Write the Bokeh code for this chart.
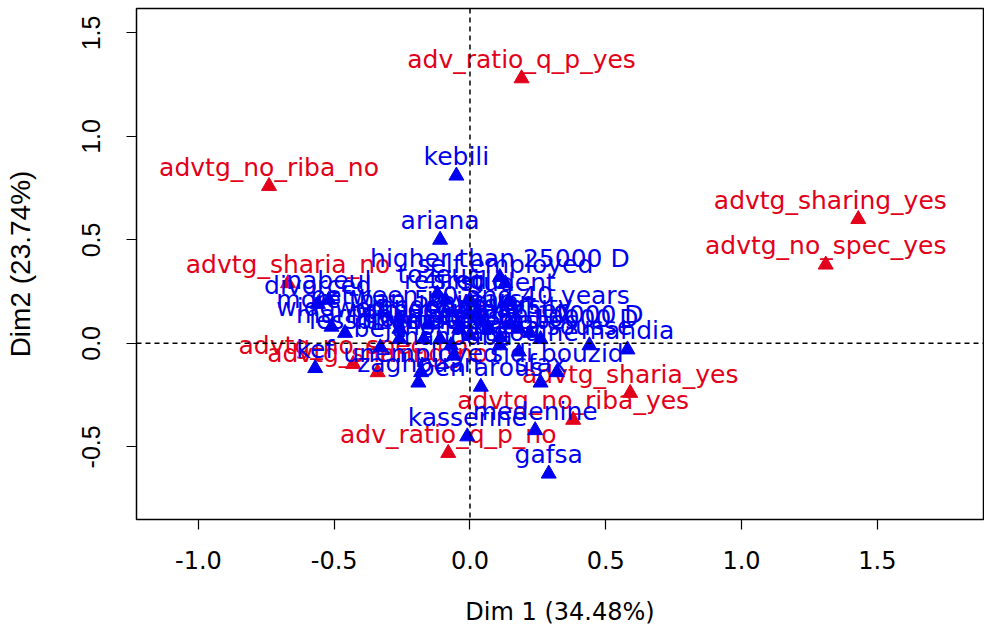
from bokeh.plotting import figure
from bokeh.models import Range1d, Span, ColumnDataSource, FixedTicker, PrintfTickFormatter
from bokeh.core.properties import value
from bokeh.embed import file_html
from bokeh.resources import INLINE

# ---- data ----
red_labels = ["adv_ratio_q_p_yes", "advtg_no_riba_no", "advtg_sharing_yes", "advtg_no_spec_yes",
              "advtg_sharia_no", "advtg_sharia_yes", "advtg_no_riba_yes", "adv_ratio_q_p_no",
              "advtg_no_spec_no", "advtg_sharing_no"]
red_x = [0.19, -0.74, 1.43, 1.31, -0.67, 0.59, 0.38, -0.08, -0.43, -0.34]
red_y = [1.28, 0.76, 0.60, 0.38, 0.29, -0.24, -0.37, -0.53, -0.10, -0.14]

blue_labels = ["kebili", "ariana", "higher than 25000 D", "self employed", "tozeur", "retired",
               "student", "nabeul", "divorced", "more than 50 years", "widowed", "married",
               "less than 30 years", "teacher", "less than 10000 D", "mahdia", "sidi bouzid",
               "sfax", "zaghouan", "unemployed", "ben arous", "kasserine", "medenine", "gafsa",
               "kef", "tunis", "sousse", "monastir", "bizerte", "beja", "jendouba", "siliana",
               "kairouan", "gabes", "tataouine", "manouba", "male", "female", "primary",
               "secondary", "university", "between 30 and 40 years", "single",
               "from 5000 to 10000 D"]
blue_x = [-0.05, -0.11, 0.11, 0.13, -0.12, -0.09, 0.14, -0.52, -0.56, -0.26, -0.51, -0.46,
          -0.17, 0.18, 0.22, 0.58, 0.32, 0.26, -0.19, -0.18, 0.04, -0.01, 0.24, 0.29,
          -0.57, 0.00, 0.44, -0.07, -0.26, -0.33, -0.15, 0.11, 0.04, 0.26, 0.18, -0.06,
          0.07, -0.11, -0.26, -0.04, 0.15, 0.00, 0.00, 0.11]
blue_y = [0.81, 0.50, 0.32, 0.29, 0.24, 0.21, 0.20, 0.21, 0.19, 0.12, 0.08, 0.05,
          0.02, 0.07, 0.05, -0.03, -0.14, -0.19, -0.19, -0.14, -0.21, -0.45, -0.42, -0.63,
          -0.12, 0.04, -0.01, -0.01, 0.02, -0.02, 0.09, -0.01, 0.11, 0.02, -0.04, -0.06,
          0.07, 0.02, 0.07, 0.07, 0.09, 0.14, 0.21, 0.03]

x_ticks = [-1.0, -0.5, 0.0, 0.5, 1.0, 1.5]
y_ticks = [-0.5, 0.0, 0.5, 1.0, 1.5]
x_title = "Dim 1 (34.48%)"
y_title = "Dim2 (23.74%)"

RED = "#E2001A"
BLUE = "#0000F0"
label_nudge = {"advtg_sharing_yes": -28}

p = figure(width=984, height=628, output_backend="svg", toolbar_location=None,
           x_range=Range1d(-1.228, 1.891), y_range=Range1d(-0.851, 1.618),
           min_border_left=136, min_border_right=1, min_border_top=8, min_border_bottom=108)
p.grid.visible = False
p.outline_line_color = "black"
p.outline_line_width = 1.5
p.background_fill_color = "white"

for ax, ticks in ((p.xaxis[0], x_ticks), (p.yaxis[0], y_ticks)):
    ax.ticker = FixedTicker(ticks=ticks)
    ax.formatter = PrintfTickFormatter(format="%.1f")
    ax.axis_line_color = None
    ax.major_tick_line_color = "black"
    ax.major_tick_line_width = 1.2
    ax.major_tick_out = 10
    ax.major_tick_in = 0
    ax.minor_tick_line_color = None
    ax.major_label_text_color = "black"
    ax.axis_label_text_color = "black"
    ax.axis_label_text_font_style = "normal"

p.xaxis.major_label_text_font = "DejaVu Sans"
p.xaxis.major_label_text_font_size = "24px"
p.xaxis.major_label_standoff = 21
p.xaxis.axis_label = x_title
p.xaxis.axis_label_text_font = "DejaVu Sans"
p.xaxis.axis_label_text_font_size = "24px"
p.xaxis.axis_label_standoff = 26

p.yaxis.major_label_orientation = "vertical"
p.yaxis.major_label_text_font = "Liberation Sans"
p.yaxis.major_label_text_font_size = "25px"
p.yaxis.major_label_standoff = 26
p.yaxis.axis_label = y_title
p.yaxis.axis_label_text_font = "Liberation Sans"
p.yaxis.axis_label_text_font_size = "28px"
p.yaxis.axis_label_standoff = 44

p.add_layout(Span(location=0, dimension="height", line_color="black", line_dash="5 4", line_width=1.5))
p.add_layout(Span(location=0, dimension="width", line_color="black", line_dash="5 4", line_width=1.5))

red_src = ColumnDataSource(dict(x=red_x, y=red_y, t=red_labels,
                                dx=[label_nudge.get(t, 0) for t in red_labels]))
blue_src = ColumnDataSource(dict(x=blue_x, y=blue_y, t=blue_labels,
                                 dx=[label_nudge.get(t, 0) for t in blue_labels]))

txt = dict(text_font=value("DejaVu Sans"), text_font_size="25px", text_align="center",
           text_baseline="alphabetic", y_offset=-19)
p.text(x="x", y="y", text="t", x_offset="dx", source=red_src, text_color=RED, **txt)
p.scatter(x="x", y="y", source=red_src, marker="triangle", size=15, fill_color=RED, line_color=RED)
p.text(x="x", y="y", text="t", x_offset="dx", source=blue_src, text_color=BLUE, **txt)
p.scatter(x="x", y="y", source=blue_src, marker="triangle", size=15, fill_color=BLUE, line_color=BLUE)

open("out.html", "w").write(file_html(p, INLINE))
